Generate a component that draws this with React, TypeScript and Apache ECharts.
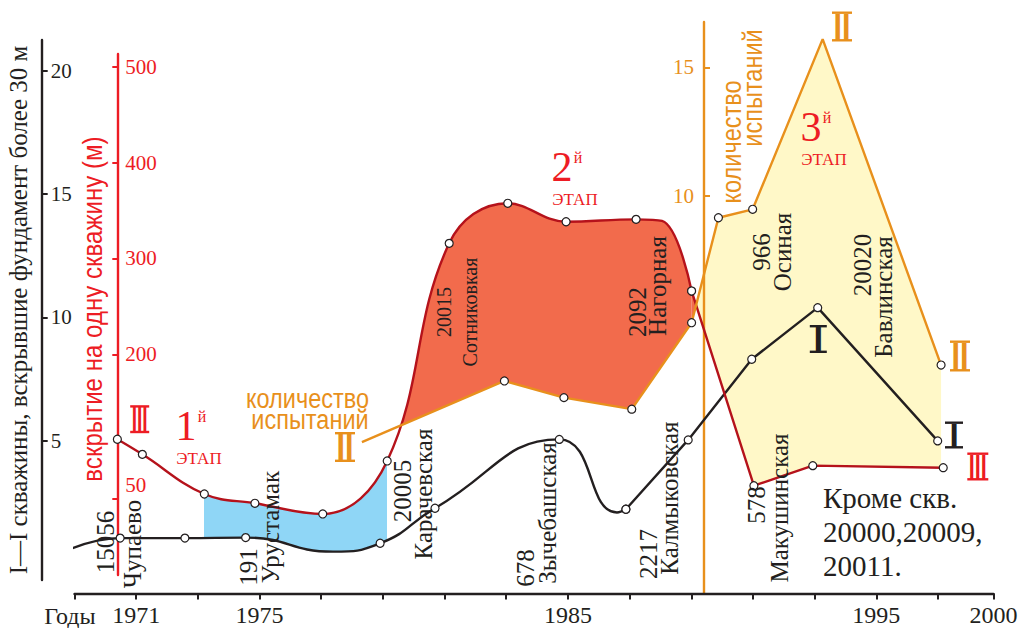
import React, { useEffect, useRef } from "react";
import * as echarts from "echarts";

// ---------- data ----------
// I — скважины, вскрывшие фундамент более 30 м (шт.), smooth part and straight part
const wellsYearsA = [1967.94, 1970.48, 1972.58, 1974.55, 1977.38, 1978.91, 1980.69, 1984.72, 1986.59, 1986.88];
const wellsCountA = [0, 1.05, 1.05, 1.07, 0.5, 0.84, 2.26, 5.05, 2.09, 2.22];
const wellsPlainA = [0, 4, 8]; // curve points without a marker
const wellsYearsB = [1986.88, 1988.9, 1990.96, 1993.1, 1996.99];
const wellsCountB = [2.22, 5.03, 8.3, 10.39, 4.99];

// III — вскрытие на одну скважину, м
const depthYearsA = [1970.39, 1971.2, 1973.21, 1974.85, 1977.05, 1979.14, 1981.15, 1983.05, 1984.94, 1987.21, 1988.05, 1989.01];
const depthMetersA = [111.7, 96.0, 54.7, 45.0, 33.9, 89.1, 315.8, 357.5, 338.3, 340.8, 339.1, 266.1];
const depthPlainA = [10];
const depthYearsB = [1989.01, 1989.16, 1991.03, 1992.94, 1997.17];
const depthMetersB = [266.1, 251.1, 63.3, 84.2, 82.1];
const depthPlainB = [1];

// II — количество испытаний
const testYears = [1978.32, 1982.94, 1984.87, 1987.07, 1989.01, 1989.16, 1989.88, 1990.99, 1993.26, 1997.1];
const testCounts = [0.4, 2.78, 2.13, 1.68, 5.05, 5.75, 9.14, 9.47, 16.1, 3.4];
const testPlain = [0, 5, 8];

// year spans of the three shaded stages
const stage1Years = [1973.21, 1979.14];
const stage2Years = [1979.14, 1989.16];
const stage3Years = [1989.16, 1997.1];

// axes
const YEAR_MIN = 1969;
const YEAR_END = 1998.8; // end of the time axis, labelled 2000
const yearTicks = [1969, 1971, 1973, 1975, 1977, 1979, 1981, 1983, 1985, 1987, 1989, 1991, 1993, 1995, 1997, YEAR_END];
const yearLabels = [1971, 1975, 1985, 1995, YEAR_END];
const wellTicks = [5, 10, 15, 20];
const depthTicks = [50, 200, 300, 400, 500];
const testTicks = [10, 15];

// ---------- layout & styles ----------
const WIDTH = 1019;
const PLOT_LEFT = 74.5;
const PLOT_RIGHT = 993.5;
const PLOT_TOP = 22;
const PLOT_BOTTOM = 34.5;
const WELLS_RANGE = [-1.196, 21.97];
const DEPTH_RANGE = [-48.958, 546.354];
const TESTS_RANGE = [-5.503, 16.769];

const INK = "#231f20";
const RED = "#ed1c24";
const RED_LINE = "#b5121b";
const ORANGE = "#e8901c";
const BLUE_FILL = "#8fd6f6";
const CORAL_FILL = "#f26b4c";
const YELLOW_FILL = "#fff8c8";
const SERIF = '"Liberation Serif", "Times New Roman", serif';
const SANS = '"Liberation Sans", Arial, sans-serif';
const SMOOTH_WELLS = 0.5;
const SMOOTH_DEPTH = 0.4;

const points = (xs: number[], ys: number[], plain: number[] = []) =>
  xs.map((x, i) => (plain.includes(i) ? { value: [x, ys[i]], symbol: "none" } : [x, ys[i]]));
const pairs = (xs: number[], ys: number[]) => xs.map((x, i) => [x, ys[i]]);

const yearToPx = (y: number) => PLOT_LEFT + ((y - YEAR_MIN) * (PLOT_RIGHT - PLOT_LEFT)) / (YEAR_END - YEAR_MIN);

// a plot window that shares the main scales but covers only one stage
const windowGrid = (span: number[]) => ({
  left: yearToPx(span[0]),
  right: WIDTH - yearToPx(span[1]),
  top: PLOT_TOP,
  bottom: PLOT_BOTTOM,
  containLabel: false,
  outerBoundsMode: "none",
});
const hiddenX = (gridIndex: number, min: number, max: number) => ({ type: "value", gridIndex, min, max, show: false });
const hiddenY = (gridIndex: number, range: number[]) => ({ type: "value", gridIndex, min: range[0], max: range[1], show: false });

const lineSeries = (yAxisIndex: number, data: any[], color: string, smooth: number | boolean, extra: any = {}) => ({
  type: "line",
  xAxisIndex: 0,
  yAxisIndex,
  data,
  smooth,
  z: 4,
  symbol: "circle",
  symbolSize: 8,
  showAllSymbol: true,
  lineStyle: { color, width: 2.4 },
  itemStyle: { color: "#ffffff", borderColor: INK, borderWidth: 1.2 },
  emphasis: { disabled: true },
  silent: true,
  ...extra,
});

const fillSeries = (xAxisIndex: number, yAxisIndex: number, data: any[], color: string, smooth: number | boolean) => ({
  type: "line",
  xAxisIndex,
  yAxisIndex,
  data,
  smooth,
  z: 1,
  clip: true,
  symbol: "none",
  lineStyle: { width: 0, opacity: 0 },
  areaStyle: { color, opacity: 1, origin: "start" },
  emphasis: { disabled: true },
  silent: true,
});

const vText = (text: string, x: number, y: number, size: number, color = INK, family = SERIF, sx = 1) => ({
  type: "text",
  x,
  y,
  rotation: Math.PI / 2,
  scaleX: sx,
  z: 10,
  silent: true,
  style: { text, fill: color, fontSize: size, fontFamily: family, align: "center", verticalAlign: "middle" },
});

const hText = (text: string, x: number, y: number, size: number, o: any = {}) => ({
  type: "text",
  x,
  y,
  scaleX: o.sx ?? 1,
  z: 10,
  silent: true,
  style: {
    text,
    fill: o.color ?? INK,
    fontSize: size,
    fontFamily: o.family ?? SERIF,
    align: o.align ?? "center",
    verticalAlign: "middle",
    lineHeight: o.lineHeight ?? Math.round(size * 1.05),
  },
});

// roman numeral marker with bars above and below
const numeral = (text: string, cx: number, cy: number, w: number, h: number, color: string) => {
  const fs = (h - 3) / 0.72;
  const natural = text.length * 0.278 * fs;
  const sx = Math.min(1, (w - 3) / natural);
  return {
    type: "group",
    x: cx,
    y: cy,
    silent: true,
    children: [
      { type: "rect", z: 10, shape: { x: -w / 2, y: -h / 2, width: w, height: 2.4 }, style: { fill: color } },
      { type: "rect", z: 10, shape: { x: -w / 2, y: h / 2 - 2.4, width: w, height: 2.4 }, style: { fill: color } },
      {
        type: "text",
        z: 10,
        x: 0,
        y: 0,
        scaleX: sx,
        style: {
          text,
          fill: color,
          fontSize: fs,
          fontWeight: "bold",
          fontFamily: SANS,
          align: "center",
          verticalAlign: "middle",
          lineHeight: h - 4,
        },
      },
    ],
  };
};

const stage = (num: string, x: number, y: number) => [
  hText(num, x, y - 1, 42, { color: RED, lineHeight: 32 }),
  hText("й", x + 16, y - 11, 16, { color: RED, lineHeight: 14 }),
  hText("ЭТАП", x + 13, y + 31, 17, { color: RED, lineHeight: 15 }),
];

function buildOption() {
  const gridBase = { left: PLOT_LEFT, right: WIDTH - PLOT_RIGHT, containLabel: false, outerBoundsMode: "none" };
  return {
    animation: false,
    backgroundColor: "#ffffff",
    textStyle: { fontFamily: SERIF },
    grid: [
      { ...gridBase, top: PLOT_TOP, bottom: PLOT_BOTTOM }, // 0: all curves
      { ...gridBase, top: 40, bottom: 48 }, // 1: wells scale
      { ...gridBase, top: 54, bottom: 53 }, // 2: depth scale
      windowGrid(stage1Years), // 3
      windowGrid(stage2Years), // 4
      windowGrid(stage3Years), // 5
    ],
    xAxis: [
      {
        type: "value",
        gridIndex: 0,
        min: YEAR_MIN,
        max: YEAR_END,
        z: 2,
        axisLine: { show: true, onZero: false, lineStyle: { color: INK, width: 2.4 } },
        axisTick: { show: true, customValues: yearTicks, length: 6, lineStyle: { color: INK, width: 2 } },
        axisLabel: {
          customValues: yearLabels,
          formatter: (v: number) => (v === YEAR_END ? "2000" : String(v)),
          fontFamily: SERIF,
          fontSize: 24,
          lineHeight: 22,
          color: INK,
          margin: 10,
        },
        splitLine: { show: false },
      },
      hiddenX(1, YEAR_MIN, YEAR_END),
      hiddenX(2, YEAR_MIN, YEAR_END),
      hiddenX(3, stage1Years[0], stage1Years[1]),
      hiddenX(4, stage2Years[0], stage2Years[1]),
      hiddenX(5, stage3Years[0], stage3Years[1]),
    ],
    yAxis: [
      hiddenY(0, WELLS_RANGE), // 0
      hiddenY(0, DEPTH_RANGE), // 1
      {
        // 2: tests scale
        type: "value",
        gridIndex: 0,
        min: TESTS_RANGE[0],
        max: TESTS_RANGE[1],
        position: "left",
        offset: -629.5,
        z: 2,
        axisLine: { show: true, onZero: false, lineStyle: { color: ORANGE, width: 2.4 } },
        axisTick: { show: true, inside: true, length: 6, customValues: testTicks, lineStyle: { color: ORANGE, width: 2 } },
        axisLabel: { customValues: testTicks, color: ORANGE, fontFamily: SERIF, fontSize: 21, margin: 10 },
        splitLine: { show: false },
      },
      {
        // 3: wells scale
        type: "value",
        gridIndex: 1,
        min: -0.6486,
        max: 21.24,
        position: "left",
        offset: 32.8,
        z: 2,
        name: "I—I скважины, вскрывшие фундамент более 30 м",
        nameLocation: "middle",
        nameRotate: 90,
        nameGap: 11,
        nameTextStyle: { color: INK, fontFamily: SERIF, fontSize: 25 },
        axisLine: { show: true, onZero: false, lineStyle: { color: INK, width: 2.4 } },
        axisTick: { show: true, inside: true, length: 6, customValues: wellTicks, lineStyle: { color: INK, width: 2 } },
        axisLabel: { inside: true, customValues: wellTicks, color: INK, fontFamily: SERIF, fontSize: 21, margin: 9 },
        splitLine: { show: false },
      },
      {
        // 4: depth scale
        type: "value",
        gridIndex: 2,
        min: -29.688,
        max: 513.021,
        position: "left",
        offset: -42.8,
        z: 2,
        axisLine: { show: true, onZero: false, lineStyle: { color: RED, width: 2.4 } },
        axisTick: { show: true, length: 5, customValues: depthTicks, lineStyle: { color: RED, width: 2 } },
        axisLabel: {
          inside: true,
          customValues: depthTicks,
          color: RED,
          fontFamily: SERIF,
          fontSize: 21,
          margin: 8,
          formatter: (v: number) => (v === 50 ? "{lift|50}" : String(v)),
          rich: { lift: { padding: [0, 0, 26, 0], color: RED, fontFamily: SERIF, fontSize: 21 } },
        },
        splitLine: { show: false },
      },
      hiddenY(3, WELLS_RANGE), // 5
      hiddenY(3, DEPTH_RANGE), // 6
      hiddenY(4, DEPTH_RANGE), // 7
      hiddenY(4, TESTS_RANGE), // 8
      hiddenY(5, TESTS_RANGE), // 9
      hiddenY(5, DEPTH_RANGE), // 10
    ],
    series: [
      // stage 1: between depth (above) and wells (below)
      fillSeries(3, 6, pairs(depthYearsA, depthMetersA), BLUE_FILL, SMOOTH_DEPTH),
      fillSeries(3, 5, pairs(wellsYearsA, wellsCountA), "#ffffff", SMOOTH_WELLS),
      // stage 2: between depth (above) and tests (below)
      fillSeries(4, 7, pairs(depthYearsA, depthMetersA), CORAL_FILL, SMOOTH_DEPTH),
      fillSeries(4, 7, pairs(depthYearsB, depthMetersB), CORAL_FILL, false),
      fillSeries(4, 8, pairs(testYears, testCounts), "#ffffff", false),
      // stage 3: between tests (above) and depth (below)
      fillSeries(5, 9, pairs(testYears, testCounts), YELLOW_FILL, false),
      fillSeries(5, 10, pairs(depthYearsB, depthMetersB), "#ffffff", false),

      lineSeries(0, points(wellsYearsA, wellsCountA, wellsPlainA), INK, SMOOTH_WELLS, { clip: false }),
      lineSeries(0, points(wellsYearsB, wellsCountB), INK, false),
      lineSeries(1, points(depthYearsA, depthMetersA, depthPlainA), RED_LINE, SMOOTH_DEPTH),
      lineSeries(1, points(depthYearsB, depthMetersB, depthPlainB), RED_LINE, false),
      lineSeries(2, points(testYears, testCounts, testPlain), ORANGE, false),
    ],
    graphic: [
      hText("Годы", 70, 616, 24, { lineHeight: 20 }),
      vText("вскрытие на одну скважину (м)", 92.5, 309, 28, RED, SANS, 0.86),
      vText("количество", 731, 142, 28, ORANGE, SANS, 0.84),
      vText("испытаний", 752, 88, 28, ORANGE, SANS, 0.84),
      hText("количество", 307.5, 398.5, 28, { color: ORANGE, family: SANS, sx: 0.84, lineHeight: 20 }),
      hText("испытаний", 310, 419, 28, { color: ORANGE, family: SANS, sx: 0.84, lineHeight: 20 }),

      vText("15056", 105, 542, 25),
      vText("Чупаево", 132, 544, 25),
      vText("191", 248, 567, 25),
      vText("Урустамак", 270, 527, 25),
      vText("20005", 402, 491, 25),
      vText("Карачевская", 423, 494, 25),
      vText("20015", 444, 312, 20),
      vText("Сотниковкая", 470, 312, 20),
      vText("678", 525, 568, 25),
      vText("Зычебашская", 547, 513, 25),
      vText("2092", 637, 312, 25),
      vText("Нагорная", 657, 286, 25),
      vText("2217", 648, 554, 25),
      vText("Калмыковская", 669, 498, 25),
      vText("966", 761, 252, 25),
      vText("Осиная", 782, 252, 25),
      vText("578", 756, 505, 25),
      vText("Макушинская", 779, 508, 25),
      vText("20020", 862, 265, 25),
      vText("Бавлинская", 883, 297, 25),

      hText("Кроме скв.", 823, 498, 29, { align: "left", lineHeight: 30 }),
      hText("20000,20009,", 823, 532, 29, { align: "left", lineHeight: 30 }),
      hText("20011.", 823, 566, 29, { align: "left", lineHeight: 30 }),

      ...stage("1", 186, 427),
      ...stage("2", 562, 168),
      ...stage("3", 811, 128),

      numeral("III", 139.7, 419.2, 19, 28, RED),
      numeral("III", 977.8, 466.5, 21, 28, RED),
      numeral("II", 345, 447, 20, 30, ORANGE),
      numeral("II", 842, 26.5, 20, 30, ORANGE),
      numeral("II", 960, 356, 20, 31, ORANGE),
      numeral("I", 818.3, 339, 17, 28, INK),
      numeral("I", 954, 435, 18, 27, INK),
    ],
  };
}

export default function App() {
  const ref = useRef<HTMLDivElement>(null);
  useEffect(() => {
    if (!ref.current) return;
    const chart = echarts.init(ref.current, null, { renderer: "svg" });
    chart.setOption(buildOption() as any);
    return () => chart.dispose();
  }, []);
  return (
    <div
      ref={ref}
      style={{ position: "fixed", left: 0, top: 0, width: WIDTH, height: 628, background: "#ffffff" }}
    />
  );
}
